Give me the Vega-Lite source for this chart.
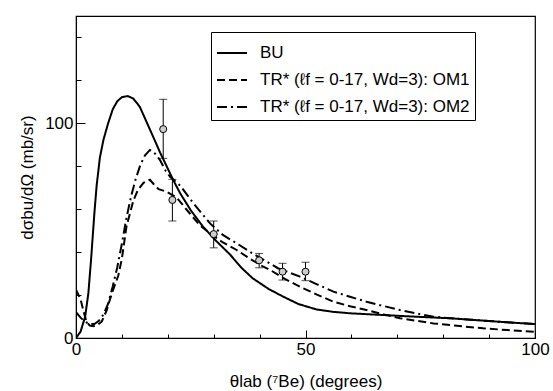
{
  "$schema": "https://vega.github.io/schema/vega-lite/v6.json",
  "autosize": {"type": "none"},
  "width": 459,
  "height": 322,
  "padding": {"left": 76, "top": 16, "right": 18, "bottom": 53},
  "background": "white",
  "config": {
    "view": {"stroke": "black", "strokeWidth": 1.2},
    "font": "Liberation Sans",
    "axis": {"grid": false, "domainColor": "black", "tickColor": "black", "labelColor": "black", "titleColor": "black", "labelFont": "Liberation Sans", "titleFont": "Liberation Sans", "labelFontSize": 17, "titleFontSize": 17, "titleFontWeight": "normal", "labelOverlap": false}
  },
  "datasets": {
    "curves": [
      {"series": "BU", "x": 0, "y": 0}, {"series": "BU", "x": 1, "y": 3}, {"series": "BU", "x": 2, "y": 10}, {"series": "BU", "x": 2.7, "y": 21}, {"series": "BU", "x": 3.3, "y": 37}, {"series": "BU", "x": 4, "y": 58}, {"series": "BU", "x": 4.5, "y": 71}, {"series": "BU", "x": 5.2, "y": 84}, {"series": "BU", "x": 6, "y": 92.5}, {"series": "BU", "x": 7, "y": 100}, {"series": "BU", "x": 8, "y": 106.5}, {"series": "BU", "x": 9, "y": 110.3}, {"series": "BU", "x": 10, "y": 112.2}, {"series": "BU", "x": 11.3, "y": 112.7}, {"series": "BU", "x": 12.5, "y": 111.5}, {"series": "BU", "x": 13.9, "y": 107.7}, {"series": "BU", "x": 15.3, "y": 101}, {"series": "BU", "x": 16.8, "y": 93.8}, {"series": "BU", "x": 18.3, "y": 86.5}, {"series": "BU", "x": 19.8, "y": 79.8}, {"series": "BU", "x": 21.2, "y": 73.5}, {"series": "BU", "x": 22.7, "y": 67.4}, {"series": "BU", "x": 25, "y": 59.5}, {"series": "BU", "x": 27.7, "y": 51.8}, {"series": "BU", "x": 30.5, "y": 45.3}, {"series": "BU", "x": 33.6, "y": 38.8}, {"series": "BU", "x": 36, "y": 32.8}, {"series": "BU", "x": 38.5, "y": 27.8}, {"series": "BU", "x": 42, "y": 22.8}, {"series": "BU", "x": 45.2, "y": 19.2}, {"series": "BU", "x": 48.5, "y": 15.8}, {"series": "BU", "x": 52.4, "y": 13.3}, {"series": "BU", "x": 56, "y": 12.2}, {"series": "BU", "x": 59.7, "y": 11.5}, {"series": "BU", "x": 67, "y": 10.7}, {"series": "BU", "x": 74.2, "y": 9.9}, {"series": "BU", "x": 81.5, "y": 9.2}, {"series": "BU", "x": 88.7, "y": 8.1}, {"series": "BU", "x": 94, "y": 7.3}, {"series": "BU", "x": 100, "y": 6.5},
      {"series": "OM1", "x": 0, "y": 22.5}, {"series": "OM1", "x": 1, "y": 18}, {"series": "OM1", "x": 1.7, "y": 12}, {"series": "OM1", "x": 2.3, "y": 7.5}, {"series": "OM1", "x": 3, "y": 5.8}, {"series": "OM1", "x": 3.8, "y": 5.5}, {"series": "OM1", "x": 4.6, "y": 6}, {"series": "OM1", "x": 5.6, "y": 7.6}, {"series": "OM1", "x": 6.7, "y": 13}, {"series": "OM1", "x": 7.4, "y": 18}, {"series": "OM1", "x": 8.1, "y": 22.5}, {"series": "OM1", "x": 9.2, "y": 29}, {"series": "OM1", "x": 10, "y": 37}, {"series": "OM1", "x": 11, "y": 52}, {"series": "OM1", "x": 12.5, "y": 64}, {"series": "OM1", "x": 13.5, "y": 69}, {"series": "OM1", "x": 14.7, "y": 72.3}, {"series": "OM1", "x": 16.1, "y": 73.7}, {"series": "OM1", "x": 17, "y": 71.5}, {"series": "OM1", "x": 18, "y": 69.3}, {"series": "OM1", "x": 19.8, "y": 68.1}, {"series": "OM1", "x": 21.9, "y": 65.5}, {"series": "OM1", "x": 24.8, "y": 58}, {"series": "OM1", "x": 27, "y": 52.5}, {"series": "OM1", "x": 29.2, "y": 48.8}, {"series": "OM1", "x": 32, "y": 44.5}, {"series": "OM1", "x": 35, "y": 41}, {"series": "OM1", "x": 38, "y": 36.8}, {"series": "OM1", "x": 40.8, "y": 33.2}, {"series": "OM1", "x": 42.3, "y": 31.7}, {"series": "OM1", "x": 45.5, "y": 27.5}, {"series": "OM1", "x": 48.8, "y": 23.9}, {"series": "OM1", "x": 52.5, "y": 20.2}, {"series": "OM1", "x": 56.1, "y": 16.9}, {"series": "OM1", "x": 59.7, "y": 14.8}, {"series": "OM1", "x": 63.3, "y": 13}, {"series": "OM1", "x": 67, "y": 11}, {"series": "OM1", "x": 70.6, "y": 9.2}, {"series": "OM1", "x": 74.2, "y": 8}, {"series": "OM1", "x": 77.9, "y": 6.8}, {"series": "OM1", "x": 83, "y": 5.7}, {"series": "OM1", "x": 88.7, "y": 4.5}, {"series": "OM1", "x": 94, "y": 3.7}, {"series": "OM1", "x": 100, "y": 2.9},
      {"series": "OM2", "x": 0, "y": 12}, {"series": "OM2", "x": 1, "y": 9.5}, {"series": "OM2", "x": 2, "y": 7.5}, {"series": "OM2", "x": 3, "y": 6.5}, {"series": "OM2", "x": 4, "y": 6.5}, {"series": "OM2", "x": 5, "y": 8}, {"series": "OM2", "x": 6, "y": 11}, {"series": "OM2", "x": 7, "y": 16}, {"series": "OM2", "x": 8, "y": 24}, {"series": "OM2", "x": 9, "y": 33}, {"series": "OM2", "x": 10, "y": 44}, {"series": "OM2", "x": 11, "y": 56}, {"series": "OM2", "x": 12, "y": 66}, {"series": "OM2", "x": 13, "y": 74}, {"series": "OM2", "x": 14, "y": 80.5}, {"series": "OM2", "x": 15, "y": 85}, {"series": "OM2", "x": 16.1, "y": 87.6}, {"series": "OM2", "x": 17, "y": 86.5}, {"series": "OM2", "x": 18.3, "y": 82.9}, {"series": "OM2", "x": 19.5, "y": 78}, {"series": "OM2", "x": 20.5, "y": 75.1}, {"series": "OM2", "x": 22.7, "y": 71}, {"series": "OM2", "x": 25.6, "y": 62.7}, {"series": "OM2", "x": 29.2, "y": 53.4}, {"series": "OM2", "x": 32, "y": 48}, {"series": "OM2", "x": 35, "y": 44.1}, {"series": "OM2", "x": 38, "y": 40}, {"series": "OM2", "x": 41, "y": 36.3}, {"series": "OM2", "x": 44, "y": 32.5}, {"series": "OM2", "x": 48.8, "y": 28.6}, {"series": "OM2", "x": 52.5, "y": 25}, {"series": "OM2", "x": 56.1, "y": 21.6}, {"series": "OM2", "x": 59.7, "y": 19.2}, {"series": "OM2", "x": 63.3, "y": 16.9}, {"series": "OM2", "x": 67, "y": 14.9}, {"series": "OM2", "x": 70.6, "y": 13}, {"series": "OM2", "x": 74.2, "y": 11.4}, {"series": "OM2", "x": 77.9, "y": 9.9}, {"series": "OM2", "x": 81.5, "y": 9.2}, {"series": "OM2", "x": 88.7, "y": 8.1}, {"series": "OM2", "x": 94, "y": 7.3}, {"series": "OM2", "x": 100, "y": 6.5}
    ],
    "points": [
      {"x": 19.0, "y": 97.3, "lo": 83.7, "hi": 111.2},
      {"x": 21.0, "y": 64.3, "lo": 54.5, "hi": 73.9},
      {"x": 30.0, "y": 48.4, "lo": 42.0, "hi": 54.5},
      {"x": 39.9, "y": 36.2, "lo": 32.7, "hi": 39.4},
      {"x": 45.0, "y": 30.9, "lo": 27.0, "hi": 34.8},
      {"x": 50.0, "y": 30.9, "lo": 26.7, "hi": 35.3}
    ]
  },
  "layer": [
    {
      "data": {"name": "curves"},
      "mark": {"type": "line", "color": "black", "strokeWidth": 2, "clip": true},
      "encoding": {
        "x": {"field": "x", "type": "quantitative", "title": "θlab (⁷Be) (degrees)", "scale": {"domain": [0, 100], "nice": false},
          "axis": {"values": [0, 10, 20, 30, 40, 50, 60, 70, 80, 90, 100], "labelExpr": "datum.value % 50 === 0 ? datum.label : ''",
            "tickSize": {"condition": {"test": "datum.value % 50 === 0", "value": -8}, "value": -4}, "labelPadding": 11, "labelFlush": false,
            "titlePadding": 12}},
        "y": {"field": "y", "type": "quantitative", "title": "dσbu/dΩ (mb/sr)", "scale": {"domain": [0, 150], "nice": false},
          "axis": {"values": [0, 10, 20, 30, 40, 50, 60, 70, 80, 90, 100, 110, 120, 130, 140, 150], "labelExpr": "datum.value % 50 === 0 ? datum.label : ''",
            "tickSize": {"condition": {"test": "datum.value % 50 === 0", "value": -9}, "value": -5}, "labelPadding": 12, "labelFlush": false,
            "titlePadding": 8}},
        "strokeDash": {"field": "series", "type": "nominal",
          "scale": {"domain": ["BU", "OM1", "OM2"], "range": [[1, 0], [8, 4], [10, 4, 2, 4]]},
          "legend": {"orient": "none", "legendX": 135, "legendY": 16, "title": null, "strokeColor": "black", "fillColor": "white", "padding": 5, "rowPadding": 3, "labelOffset": 12,
            "symbolType": "stroke", "symbolSize": 900, "symbolStrokeWidth": 2, "symbolStrokeColor": "black", "labelFontSize": 17, "labelFont": "Liberation Sans", "labelColor": "black", "labelLimit": 400,
            "labelExpr": "datum.value === 'BU' ? 'BU' : datum.value === 'OM1' ? 'TR* (ℓf = 0-17, Wd=3): OM1' : 'TR* (ℓf = 0-17, Wd=3): OM2'"}}
      }
    },
    {
      "data": {"name": "points"},
      "mark": {"type": "errorbar", "ticks": {"size": 8}, "color": "black"},
      "encoding": {
        "x": {"field": "x", "type": "quantitative", "title": "θlab (⁷Be) (degrees)"},
        "y": {"field": "lo", "type": "quantitative", "title": "dσbu/dΩ (mb/sr)"},
        "y2": {"field": "hi"}
      }
    },
    {
      "data": {"name": "points"},
      "mark": {"type": "point", "filled": true, "fill": "#cccccc", "stroke": "black", "strokeWidth": 1, "size": 50, "opacity": 1},
      "encoding": {
        "x": {"field": "x", "type": "quantitative", "title": "θlab (⁷Be) (degrees)"},
        "y": {"field": "y", "type": "quantitative", "title": "dσbu/dΩ (mb/sr)"}
      }
    }
  ]
}
